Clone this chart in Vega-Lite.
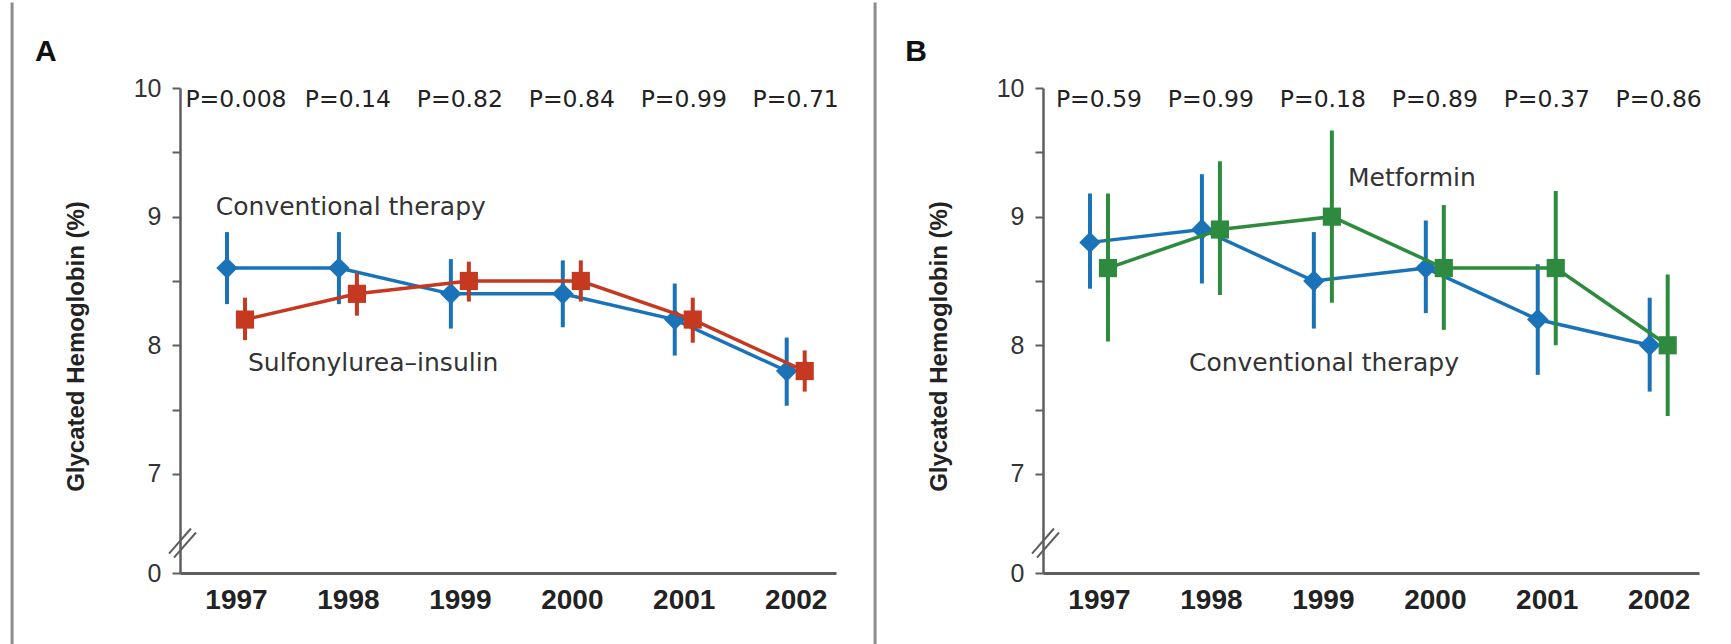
{
  "$schema": "https://vega.github.io/schema/vega-lite/v6.json",
  "padding": {"left": 10, "top": 0, "right": 0, "bottom": 0},
  "background": "white",
  "bounds": "flush",
  "spacing": 207,
  "config": {"view": {"stroke": null}, "font": "DejaVu Sans"},
  "datasets": {
    "a": [
      {"series": "c", "year": 1997, "value": 8.6, "lo": 8.32, "hi": 8.88, "p": "P=0.008"},
      {"series": "c", "year": 1998, "value": 8.6, "lo": 8.32, "hi": 8.88, "p": "P=0.14"},
      {"series": "c", "year": 1999, "value": 8.4, "lo": 8.13, "hi": 8.67, "p": "P=0.82"},
      {"series": "c", "year": 2000, "value": 8.4, "lo": 8.14, "hi": 8.66, "p": "P=0.84"},
      {"series": "c", "year": 2001, "value": 8.2, "lo": 7.92, "hi": 8.48, "p": "P=0.99"},
      {"series": "c", "year": 2002, "value": 7.8, "lo": 7.53, "hi": 8.06, "p": "P=0.71"},
      {"series": "s", "year": 1997, "value": 8.2, "lo": 8.04, "hi": 8.37},
      {"series": "s", "year": 1998, "value": 8.4, "lo": 8.23, "hi": 8.56},
      {"series": "s", "year": 1999, "value": 8.5, "lo": 8.34, "hi": 8.65},
      {"series": "s", "year": 2000, "value": 8.5, "lo": 8.34, "hi": 8.66},
      {"series": "s", "year": 2001, "value": 8.2, "lo": 8.02, "hi": 8.37},
      {"series": "s", "year": 2002, "value": 7.8, "lo": 7.64, "hi": 7.96}
    ],
    "b": [
      {"series": "c", "year": 1997, "value": 8.8, "lo": 8.44, "hi": 9.18, "p": "P=0.59"},
      {"series": "c", "year": 1998, "value": 8.9, "lo": 8.48, "hi": 9.33, "p": "P=0.99"},
      {"series": "c", "year": 1999, "value": 8.5, "lo": 8.13, "hi": 8.88, "p": "P=0.18"},
      {"series": "c", "year": 2000, "value": 8.6, "lo": 8.25, "hi": 8.97, "p": "P=0.89"},
      {"series": "c", "year": 2001, "value": 8.2, "lo": 7.77, "hi": 8.63, "p": "P=0.37"},
      {"series": "c", "year": 2002, "value": 8.0, "lo": 7.64, "hi": 8.37, "p": "P=0.86"},
      {"series": "m", "year": 1997, "value": 8.6, "lo": 8.03, "hi": 9.18},
      {"series": "m", "year": 1998, "value": 8.9, "lo": 8.39, "hi": 9.43},
      {"series": "m", "year": 1999, "value": 9.0, "lo": 8.33, "hi": 9.67},
      {"series": "m", "year": 2000, "value": 8.6, "lo": 8.12, "hi": 9.09},
      {"series": "m", "year": 2001, "value": 8.6, "lo": 8.0, "hi": 9.2},
      {"series": "m", "year": 2002, "value": 8.0, "lo": 7.45, "hi": 8.55}
    ]
  },
  "hconcat": [
    {
      "width": 656,
      "height": 485,
      "data": {"name": "a"},
      "encoding": {
        "x": {"field": "year", "type": "quantitative",
          "scale": {"domain": [1996.5, 2002.36], "nice": false, "zero": false},
          "axis": {"values": [1997, 1998, 1999, 2000, 2001, 2002], "format": "d", "ticks": false, "grid": false, "title": null,
            "labelFont": "Liberation Sans", "labelFontSize": 28, "labelFontWeight": "bold", "labelColor": "#222",
            "labelPadding": 13, "labelFlush": false, "labelOverlap": false, "domainColor": "#5e5e5e", "domainWidth": 3}},
        "y": {"field": "value", "type": "quantitative",
          "scale": {"domain": [6.23, 10], "nice": false, "zero": false},
          "axis": {"values": [6.23, 7, 7.5, 8, 8.5, 9, 9.5, 10],
            "labelExpr": "datum.value == 6.23 ? '0' : (datum.value % 1 == 0 ? format(datum.value, 'd') : '')",
            "tickSize": 8, "tickWidth": 2, "tickColor": "#5e5e5e", "domainColor": "#5e5e5e", "domainWidth": 2.5, "grid": false,
            "labelFont": "Liberation Sans", "labelFontSize": 25, "labelColor": "#333", "labelPadding": 11, "labelFlush": false, "labelOverlap": false,
            "title": "Glycated Hemoglobin (%)", "titleFont": "Liberation Sans", "titleFontSize": 24, "titleFontWeight": "bold", "titleColor": "#222",
            "titleX": -97, "titleY": 258, "titleAngle": -90, "titleAlign": "center", "titleBaseline": "alphabetic"}}
      },
      "layer": [
        {"transform": [{"filter": "datum.series == 'c'"}],
          "mark": {"type": "line", "stroke": "#1a73b8", "strokeWidth": 3.5, "xOffset": -9}, "encoding": {}},
        {"transform": [{"filter": "datum.series == 'c' && datum.year == 1997"}],
          "mark": {"type": "rule", "stroke": "#8c8c8c", "strokeWidth": 3},
          "encoding": {
            "x": {"datum": 1995.0, "type": "quantitative"},
            "y": {"datum": 10.665, "type": "quantitative"},
            "y2": {"datum": 5.5}}},
        {"transform": [{"filter": "datum.series == 'c' && datum.year == 1997"}],
          "mark": {"type": "rule", "stroke": "#5e5e5e", "strokeWidth": 2},
          "encoding": {
            "x": {"datum": 1996.402, "type": "quantitative"},
            "x2": {"datum": 1996.598},
            "y": {"datum": 6.381, "type": "quantitative"},
            "y2": {"datum": 6.576}}},
        {"transform": [{"filter": "datum.series == 'c' && datum.year == 1997"}],
          "mark": {"type": "rule", "stroke": "#5e5e5e", "strokeWidth": 2},
          "encoding": {
            "x": {"datum": 1996.446, "type": "quantitative"},
            "x2": {"datum": 1996.643},
            "y": {"datum": 6.35, "type": "quantitative"},
            "y2": {"datum": 6.545}}},
        {"transform": [{"filter": "datum.series == 'c'"}],
          "mark": {"type": "rule", "stroke": "#1a73b8", "strokeWidth": 4, "xOffset": -9},
          "encoding": {"y": {"field": "lo", "type": "quantitative"}, "y2": {"field": "hi"}}},
        {"transform": [{"filter": "datum.series == 'c'"}],
          "mark": {"type": "point", "shape": "diamond", "filled": true, "size": 460, "color": "#1a73b8", "opacity": 1, "xOffset": -9}, "encoding": {}},
        {"transform": [{"filter": "datum.series == 's'"}],
          "mark": {"type": "rule", "stroke": "#c4391f", "strokeWidth": 4, "xOffset": 9},
          "encoding": {"y": {"field": "lo", "type": "quantitative"}, "y2": {"field": "hi"}}},
        {"transform": [{"filter": "datum.series == 's'"}],
          "mark": {"type": "line", "stroke": "#c4391f", "strokeWidth": 3.5, "xOffset": 9}, "encoding": {}},
        {"transform": [{"filter": "datum.series == 's'"}],
          "mark": {"type": "point", "shape": "square", "filled": true, "size": 330, "color": "#c4391f", "opacity": 1, "xOffset": 9}, "encoding": {}},
        {"transform": [{"filter": "datum.series == 'c'"}],
          "mark": {"type": "text", "font": "DejaVu Sans", "fontSize": 23.5, "fill": "#222", "align": "center", "baseline": "alphabetic"},
          "encoding": {"y": {"datum": 9.85, "type": "quantitative"}, "text": {"field": "p"}}},
        {"transform": [{"filter": "datum.series == 'c' && datum.year == 1997"}],
          "mark": {"type": "text", "text": "Conventional therapy", "font": "DejaVu Sans", "fontSize": 25, "fill": "#333", "align": "left", "baseline": "alphabetic"},
          "encoding": {
            "x": {"datum": 1996.82, "type": "quantitative"},
            "y": {"datum": 9.012, "type": "quantitative"}}},
        {"transform": [{"filter": "datum.series == 'c' && datum.year == 1997"}],
          "mark": {"type": "text", "text": "Sulfonylurea–insulin", "font": "DejaVu Sans", "fontSize": 25, "fill": "#333", "align": "left", "baseline": "alphabetic"},
          "encoding": {
            "x": {"datum": 1997.107, "type": "quantitative"},
            "y": {"datum": 7.798, "type": "quantitative"}}},
        {"transform": [{"filter": "datum.series == 'c' && datum.year == 1997"}],
          "mark": {"type": "text", "text": "A", "font": "Liberation Sans", "fontSize": 30, "fontWeight": "bold", "fill": "#111", "align": "left", "baseline": "alphabetic"},
          "encoding": {
            "x": {"datum": 1995.205, "type": "quantitative"},
            "y": {"datum": 10.21, "type": "quantitative"}}}
      ]
    },
    {
      "width": 656,
      "height": 485,
      "data": {"name": "b"},
      "encoding": {
        "x": {"field": "year", "type": "quantitative",
          "scale": {"domain": [1996.5, 2002.36], "nice": false, "zero": false},
          "axis": {"values": [1997, 1998, 1999, 2000, 2001, 2002], "format": "d", "ticks": false, "grid": false, "title": null,
            "labelFont": "Liberation Sans", "labelFontSize": 28, "labelFontWeight": "bold", "labelColor": "#222",
            "labelPadding": 13, "labelFlush": false, "labelOverlap": false, "domainColor": "#5e5e5e", "domainWidth": 3}},
        "y": {"field": "value", "type": "quantitative",
          "scale": {"domain": [6.23, 10], "nice": false, "zero": false},
          "axis": {"values": [6.23, 7, 7.5, 8, 8.5, 9, 9.5, 10],
            "labelExpr": "datum.value == 6.23 ? '0' : (datum.value % 1 == 0 ? format(datum.value, 'd') : '')",
            "tickSize": 8, "tickWidth": 2, "tickColor": "#5e5e5e", "domainColor": "#5e5e5e", "domainWidth": 2.5, "grid": false,
            "labelFont": "Liberation Sans", "labelFontSize": 25, "labelColor": "#333", "labelPadding": 11, "labelFlush": false, "labelOverlap": false,
            "title": "Glycated Hemoglobin (%)", "titleFont": "Liberation Sans", "titleFontSize": 24, "titleFontWeight": "bold", "titleColor": "#222",
            "titleX": -97, "titleY": 258, "titleAngle": -90, "titleAlign": "center", "titleBaseline": "alphabetic"}}
      },
      "layer": [
        {"transform": [{"filter": "datum.series == 'c'"}],
          "mark": {"type": "line", "stroke": "#1a73b8", "strokeWidth": 3.5, "xOffset": -9}, "encoding": {}},
        {"transform": [{"filter": "datum.series == 'c' && datum.year == 1997"}],
          "mark": {"type": "rule", "stroke": "#8c8c8c", "strokeWidth": 3},
          "encoding": {
            "x": {"datum": 1995.0, "type": "quantitative"},
            "y": {"datum": 10.665, "type": "quantitative"},
            "y2": {"datum": 5.5}}},
        {"transform": [{"filter": "datum.series == 'c' && datum.year == 1997"}],
          "mark": {"type": "rule", "stroke": "#5e5e5e", "strokeWidth": 2},
          "encoding": {
            "x": {"datum": 1996.402, "type": "quantitative"},
            "x2": {"datum": 1996.598},
            "y": {"datum": 6.381, "type": "quantitative"},
            "y2": {"datum": 6.576}}},
        {"transform": [{"filter": "datum.series == 'c' && datum.year == 1997"}],
          "mark": {"type": "rule", "stroke": "#5e5e5e", "strokeWidth": 2},
          "encoding": {
            "x": {"datum": 1996.446, "type": "quantitative"},
            "x2": {"datum": 1996.643},
            "y": {"datum": 6.35, "type": "quantitative"},
            "y2": {"datum": 6.545}}},
        {"transform": [{"filter": "datum.series == 'c'"}],
          "mark": {"type": "rule", "stroke": "#1a73b8", "strokeWidth": 4, "xOffset": -9},
          "encoding": {"y": {"field": "lo", "type": "quantitative"}, "y2": {"field": "hi"}}},
        {"transform": [{"filter": "datum.series == 'c'"}],
          "mark": {"type": "point", "shape": "diamond", "filled": true, "size": 460, "color": "#1a73b8", "opacity": 1, "xOffset": -9}, "encoding": {}},
        {"transform": [{"filter": "datum.series == 'm'"}],
          "mark": {"type": "rule", "stroke": "#2d8a3e", "strokeWidth": 4, "xOffset": 9},
          "encoding": {"y": {"field": "lo", "type": "quantitative"}, "y2": {"field": "hi"}}},
        {"transform": [{"filter": "datum.series == 'm'"}],
          "mark": {"type": "line", "stroke": "#2d8a3e", "strokeWidth": 3.5, "xOffset": 9}, "encoding": {}},
        {"transform": [{"filter": "datum.series == 'm'"}],
          "mark": {"type": "point", "shape": "square", "filled": true, "size": 330, "color": "#2d8a3e", "opacity": 1, "xOffset": 9}, "encoding": {}},
        {"transform": [{"filter": "datum.series == 'c'"}],
          "mark": {"type": "text", "font": "DejaVu Sans", "fontSize": 23.5, "fill": "#222", "align": "center", "baseline": "alphabetic"},
          "encoding": {"y": {"datum": 9.85, "type": "quantitative"}, "text": {"field": "p"}}},
        {"transform": [{"filter": "datum.series == 'c' && datum.year == 1997"}],
          "mark": {"type": "text", "text": "Metformin", "font": "DejaVu Sans", "fontSize": 25, "fill": "#333", "align": "left", "baseline": "alphabetic"},
          "encoding": {
            "x": {"datum": 1999.224, "type": "quantitative"},
            "y": {"datum": 9.237, "type": "quantitative"}}},
        {"transform": [{"filter": "datum.series == 'c' && datum.year == 1997"}],
          "mark": {"type": "text", "text": "Conventional therapy", "font": "DejaVu Sans", "fontSize": 25, "fill": "#333", "align": "left", "baseline": "alphabetic"},
          "encoding": {
            "x": {"datum": 1997.804, "type": "quantitative"},
            "y": {"datum": 7.798, "type": "quantitative"}}},
        {"transform": [{"filter": "datum.series == 'c' && datum.year == 1997"}],
          "mark": {"type": "text", "text": "B", "font": "Liberation Sans", "fontSize": 30, "fontWeight": "bold", "fill": "#111", "align": "left", "baseline": "alphabetic"},
          "encoding": {
            "x": {"datum": 1995.27, "type": "quantitative"},
            "y": {"datum": 10.21, "type": "quantitative"}}}
      ]
    }
  ]
}
